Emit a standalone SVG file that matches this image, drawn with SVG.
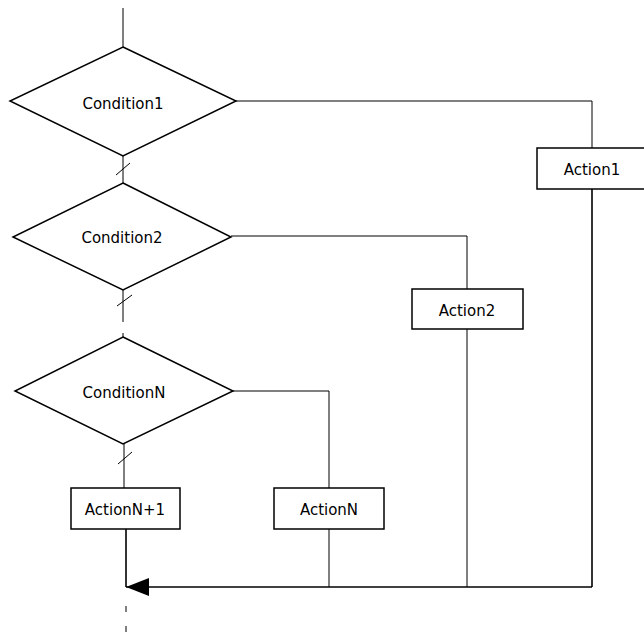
<svg xmlns="http://www.w3.org/2000/svg" width="644" height="636" viewBox="0 0 644 636">
<style>
.shape{fill:#fff;stroke:#000;stroke-width:1.5}
.conn{fill:none;stroke:#000;stroke-width:1}
.thick{fill:none;stroke:#000;stroke-width:1.6}
.lbl{font-family:"DejaVu Sans",Verdana,sans-serif;font-size:15px;fill:#000;text-anchor:middle}
</style>
<defs>
<marker id="arr" markerWidth="24" markerHeight="18" refX="23" refY="9" orient="auto" markerUnits="userSpaceOnUse">
<path d="M23,9 L0,0 L0,18 Z" fill="#000"/>
</marker>
</defs>
<g id="connectors">
<line class="conn" x1="123" y1="8" x2="123" y2="47"/>
<line class="conn" x1="123" y1="156" x2="123" y2="183"/>
<line class="conn" x1="116" y1="175" x2="130" y2="163"/>
<line class="conn" x1="123" y1="290" x2="123" y2="322"/>
<line class="conn" x1="117" y1="306" x2="132" y2="295"/>
<line class="conn" x1="123" y1="333" x2="123" y2="337"/>
<line class="conn" x1="124" y1="444" x2="124" y2="488"/>
<line class="conn" x1="118" y1="464" x2="132" y2="452"/>
<polyline class="conn" points="236,101 592,101 592,148"/>
<polyline class="conn" points="231,236 467,236 467,289"/>
<polyline class="conn" points="233,391 329,391 329,488"/>
<line class="conn" x1="329" y1="529" x2="329" y2="587"/>
<line class="conn" x1="467" y1="329" x2="467" y2="587"/>
<line class="thick" x1="592" y1="189" x2="592" y2="587"/>
<line class="thick" x1="126" y1="529" x2="126" y2="587"/>
<line class="thick" x1="592" y1="587" x2="126" y2="587" marker-end="url(#arr)"/>
<line class="conn" x1="126" y1="606" x2="126" y2="612"/>
<line class="conn" x1="126" y1="626" x2="126" y2="632"/>
</g>
<g id="condition1">
<polygon class="shape" points="123,47 236,101 123,156 10,101"/>
<text class="lbl" x="123" y="109">Condition1</text>
</g>
<g id="condition2">
<polygon class="shape" points="123,183 231,237 123,290 13,237"/>
<text class="lbl" x="122" y="243">Condition2</text>
</g>
<g id="conditionN">
<polygon class="shape" points="123,337 233,391 123,444 15,391"/>
<text class="lbl" x="124" y="398">ConditionN</text>
</g>
<g id="action1">
<rect class="shape" x="537" y="148" width="110" height="41"/>
<text class="lbl" x="592" y="175">Action1</text>
</g>
<g id="action2">
<rect class="shape" x="412" y="289" width="111" height="40"/>
<text class="lbl" x="467" y="316">Action2</text>
</g>
<g id="actionN">
<rect class="shape" x="274" y="488" width="110" height="41"/>
<text class="lbl" x="329" y="515">ActionN</text>
</g>
<g id="actionN1">
<rect class="shape" x="71" y="488" width="109" height="41"/>
<text class="lbl" x="125" y="515">ActionN+1</text>
</g>
</svg>
